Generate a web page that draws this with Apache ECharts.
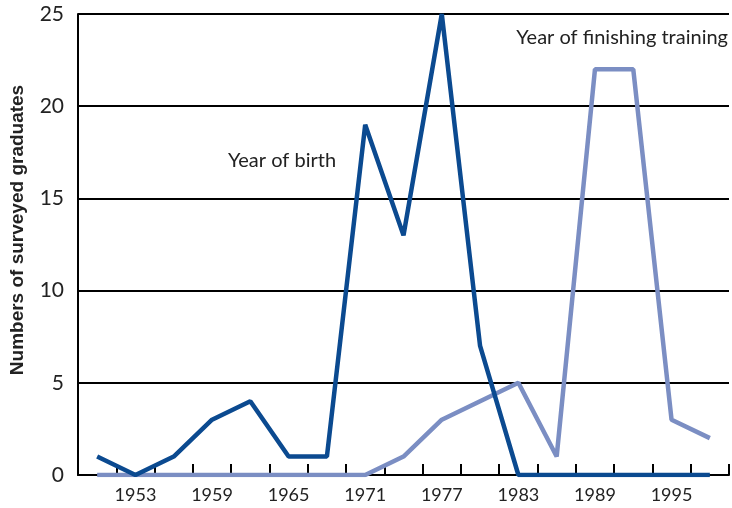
<!DOCTYPE html>
<html>
<head>
<meta charset="utf-8">
<script src="https://cdn.jsdelivr.net/npm/echarts@6/dist/echarts.min.js"></script>
<style>
  html, body { margin: 0; padding: 0; background: #fff; }
  #chart { width: 732px; height: 508px; }
</style>
</head>
<body>
<div id="chart"></div>
<script>
// survey years, every 3 years
const years = ["1950", "1953", "1956", "1959", "1962", "1965", "1968", "1971", "1974",
  "1977", "1980", "1983", "1986", "1989", "1992", "1995", "1998"]
const yearOfBirth = [1, 0, 1, 3, 4, 1, 1, 19, 13, 25, 7, 0, 0, 0, 0, 0, 0]
const yearFinishing = [0, 0, 0, 0, 0, 0, 0, 0, 1, 3, 4, 5, 1, 22, 22, 3, 2]

const font = "Lato, 'Open Sans', sans-serif"
const chart = echarts.init(document.getElementById("chart"))

chart.setOption({
  animation: false,
  textStyle: { fontFamily: font },
  grid: { left: 78, right: 3, top: 14, bottom: 33, containLabel: false },
  xAxis: {
    type: "category",
    data: years,
    boundaryGap: true,
    axisLine: { lineStyle: { color: "#000", width: 2 } },
    axisTick: { show: true, interval: 0, inside: true, length: 11, lineStyle: { color: "#000", width: 2 } },
    axisLabel: {
      interval: (i) => i % 2 === 1,
      color: "#222",
      fontSize: 18,
      margin: 11,
      fontFamily: font
    },
    splitLine: { show: false }
  },
  yAxis: {
    type: "value",
    min: 0,
    max: 25,
    interval: 5,
    axisLine: { show: true, lineStyle: { color: "#000", width: 2 } },
    axisTick: { show: false },
    axisLabel: { color: "#222", fontSize: 21, margin: 14, fontFamily: font },
    splitLine: { lineStyle: { color: "#000", width: 2 } }
  },
  graphic: [
    {
      type: "text",
      x: 18,
      y: 230,
      rotation: Math.PI / 2,
      style: {
        text: "Numbers of surveyed graduates",
        fontSize: 19,
        fontWeight: "bold",
        fill: "#222",
        fontFamily: "'Liberation Sans', Arial, sans-serif",
        align: "center",
        verticalAlign: "middle"
      }
    },
    {
      type: "text",
      left: 228,
      top: 151,
      style: { text: "Year of birth", fontSize: 20, fill: "#222", fontFamily: font }
    },
    {
      type: "text",
      right: 4,
      top: 28,
      style: { text: "Year of finishing training", fontSize: 20, fill: "#222", fontFamily: font }
    }
  ],
  series: [
    {
      name: "Year of finishing training",
      type: "line",
      data: yearFinishing,
      symbol: "none",
      lineStyle: { color: "#7b8ec3", width: 4.5 }
    },
    {
      name: "Year of birth",
      type: "line",
      data: yearOfBirth,
      symbol: "none",
      lineStyle: { color: "#0b4a90", width: 4.5 }
    }
  ]
})
</script>
</body>
</html>
